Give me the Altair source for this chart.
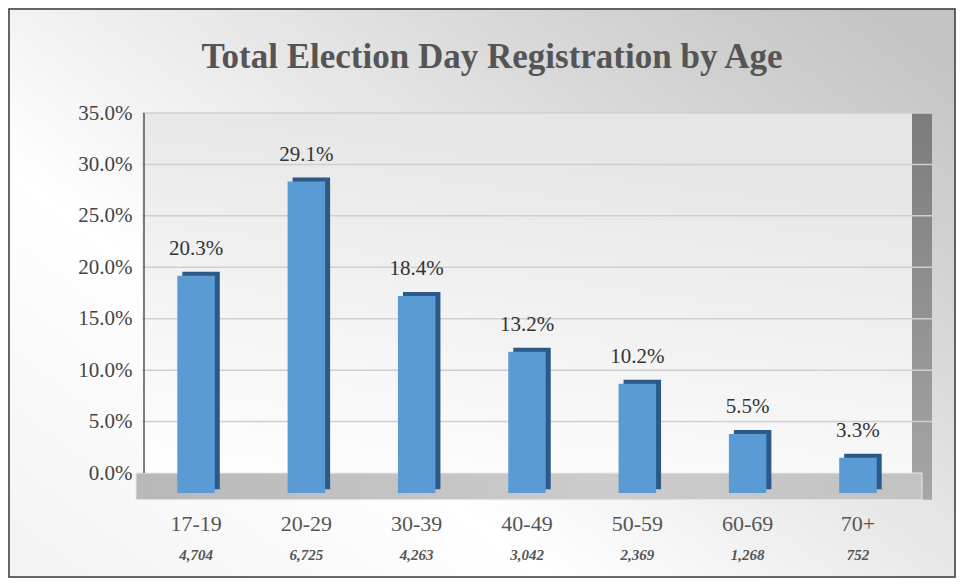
import altair as alt
import pandas as pd

title_text = "Total Election Day Registration by Age"
categories = ["17-19", "20-29", "30-39", "40-49", "50-59", "60-69", "70+"]
percents = [20.3, 29.1, 18.4, 13.2, 10.2, 5.5, 3.3]
counts = ["4,704", "6,725", "4,263", "3,042", "2,369", "1,268", "752"]
y_ticks = [0, 5, 10, 15, 20, 25, 30, 35]

df = pd.DataFrame({"cat": categories, "pct": percents, "count": counts})

W, H = 770, 387
PL, PT, PR, PB = 134, 105, 44, 78
FONT = "Liberation Serif"

xenc = alt.X("cat:N", sort=categories,
             scale=alt.Scale(paddingInner=0.66, paddingOuter=0.32),
             axis=alt.Axis(title=None, domain=False, ticks=False, labelAngle=0,
                           labelFont=FONT, labelFontSize=22, labelColor="#555555",
                           labelPadding=13, zindex=2))
# back-wall scale (axis) and front (bar) scale, as in a 3-D perspective chart
yscale = alt.Scale(domain=[-2.625, 35], nice=False, zero=False)
barscale = alt.Scale(domain=[-0.66, 35.51], nice=False, zero=False)

base = alt.Chart(df)
one = pd.DataFrame({"a": [0]})

bg = alt.Chart(one).mark_rect(
    color=alt.LinearGradient(gradient="linear",
                             stops=[alt.GradientStop(color="#f4f4f4", offset=0),
                                    alt.GradientStop(color="#ffffff", offset=0.3),
                                    alt.GradientStop(color="#d8d8d8", offset=0.75),
                                    alt.GradientStop(color="#c4c4c4", offset=1)],
                             x1=0, x2=1, y1=0.9, y2=0.1),
    stroke="#3a3a3a", strokeWidth=1.5
).encode(x=alt.value(-PL + 1), x2=alt.value(W + PR - 1),
         y=alt.value(-PT + 1), y2=alt.value(H + PB - 1))

title = alt.Chart(one).mark_text(font=FONT, fontSize=35, fontWeight="bold", color="#555555",
                                 baseline="alphabetic", text=title_text).encode(
    x=alt.value(W / 2 - 35), y=alt.value(-45))

wall = alt.Chart(one).mark_rect(
    color=alt.LinearGradient(gradient="linear",
                             stops=[alt.GradientStop(color="#ffffff", offset=0),
                                    alt.GradientStop(color="#e6e6e6", offset=1)],
                             x1=0, x2=0.3, y1=1, y2=0),
).encode(x=alt.value(0), x2=alt.value(W),
         y=alt.datum(35, scale=yscale, axis=None), y2=alt.datum(0))

floor = alt.Chart(one).mark_rect(
    color=alt.LinearGradient(gradient="linear",
                             stops=[alt.GradientStop(color="#b8b8b8", offset=0),
                                    alt.GradientStop(color="#cccccc", offset=0.6),
                                    alt.GradientStop(color="#c2c2c2", offset=1)],
                             x1=0, x2=1, y1=0, y2=0),
    stroke="#e8e8e8", strokeWidth=1
).encode(x=alt.value(-6), x2=alt.value(W + 10),
         y=alt.datum(0, scale=yscale, axis=None), y2=alt.datum(-2.6))

rightwall = alt.Chart(one).mark_rect(
    color=alt.LinearGradient(gradient="linear",
                             stops=[alt.GradientStop(color="#7c7c7c", offset=0),
                                    alt.GradientStop(color="#a6a6a6", offset=1)],
                             x1=0, x2=0, y1=0, y2=1),
).encode(x=alt.value(W), x2=alt.value(W + 20),
         y=alt.datum(35, scale=yscale, axis=None), y2=alt.datum(-2.6))

grid = alt.Chart(pd.DataFrame({"v": y_ticks[1:]})).mark_rule(color="#cfcfcf", strokeWidth=1.5).encode(
    y=alt.Y("v:Q", scale=yscale,
            axis=alt.Axis(values=y_ticks, title=None, domain=False, ticks=False, grid=False,
                          labelExpr="format(datum.value, '.1f') + '%'",
                          labelFont=FONT, labelFontSize=21, labelColor="#444444",
                          labelPadding=10, zindex=2)),
    x=alt.value(0), x2=alt.value(W + 20))

leftedge = alt.Chart(one).mark_rule(color="#555555", strokeWidth=1.5).encode(
    x=alt.value(2), y=alt.datum(35, scale=yscale, axis=None), y2=alt.datum(0))

side = base.mark_bar(color="#2b5a88", xOffset=5, yOffset=-4).encode(
    x=xenc, y=alt.Y("pct:Q", scale=barscale, axis=None), y2=alt.datum(0.35))

front = base.mark_bar(color="#5b9bd5").encode(
    x=xenc, y=alt.Y("pct:Q", scale=barscale, axis=None), y2=alt.datum(0))

labels = base.transform_calculate(lab="format(datum.pct, '.1f') + '%'").mark_text(
    font=FONT, fontSize=21, color="#333333", dy=-27).encode(
    x=xenc, y=alt.Y("pct:Q", scale=barscale, axis=None), text="lab:N")

count_text = base.mark_text(font=FONT, fontSize=15, fontStyle="italic", fontWeight="bold",
                            color="#555555").encode(
    x=xenc, y=alt.value(H + 55), text="count:N")

chart = alt.layer(bg, title, wall, rightwall, grid, floor, leftedge, side, front, labels, count_text).resolve_scale(
    y="independent"
).properties(
    width=W, height=H,
    autosize=alt.AutoSizeParams(type="none"),
    padding={"left": PL, "top": PT, "right": PR, "bottom": PB},
).configure_view(stroke=None).configure(background="#e4e4e4")

chart.save("out.html", embed_options={"renderer": "svg", "actions": False})
